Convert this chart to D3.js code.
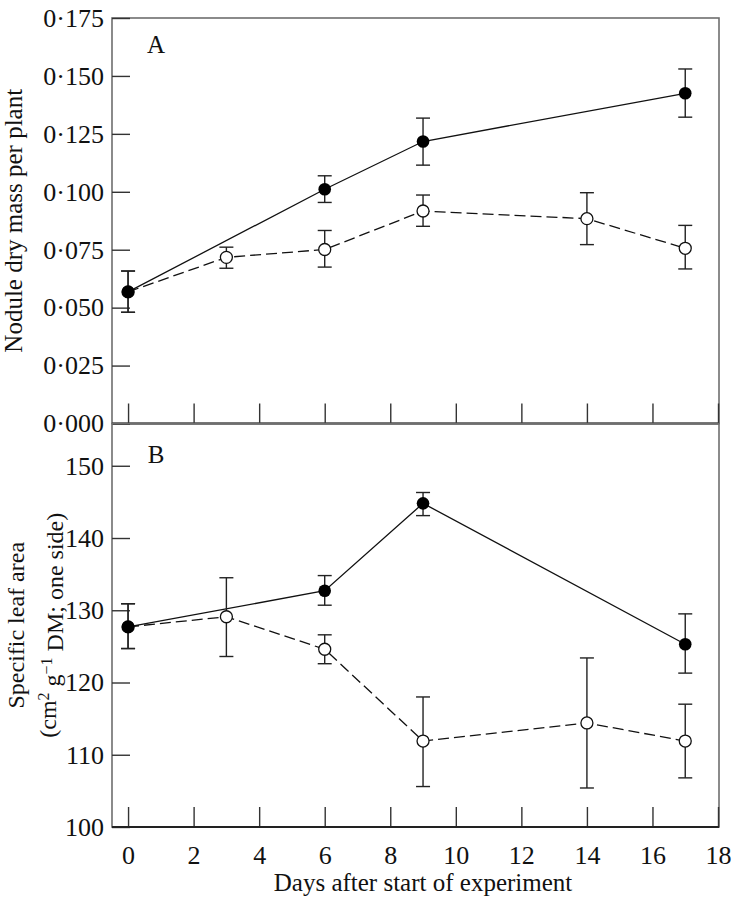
<!DOCTYPE html>
<html>
<head>
<meta charset="utf-8">
<script src="https://cdn.jsdelivr.net/npm/d3@7"></script>
<style>
  html, body { margin: 0; padding: 0; background: #fff; }
  svg { display: block; }
  text { font-family: "Liberation Serif", "DejaVu Serif", serif; fill: #111; }
</style>
</head>
<body>
<svg id="chart" width="734" height="900"></svg>
<script>
// ---------- data ----------
const xTicks = [0, 2, 4, 6, 8, 10, 12, 14, 16, 18];

// Panel A: nodule dry mass per plant
const daysFilled = [0, 6, 9, 17];
const daysOpen = [0, 3, 6, 9, 14, 17];

const massFilled   = [0.0568, 0.1011, 0.1217, 0.1425];
const massFilledHi = [0.0658, 0.1069, 0.1318, 0.1530];
const massFilledLo = [0.0480, 0.0954, 0.1115, 0.1322];

const massOpen   = [0.0568, 0.0717, 0.0751, 0.0917, 0.0884, 0.0756];
const massOpenHi = [0.0658, 0.0761, 0.0833, 0.0986, 0.0996, 0.0855];
const massOpenLo = [0.0480, 0.0670, 0.0675, 0.0851, 0.0772, 0.0667];

const massTicks = [0, 0.025, 0.05, 0.075, 0.1, 0.125, 0.15, 0.175];

// Panel B: specific leaf area
const slaFilled   = [127.7, 132.7, 144.8, 125.3];
const slaFilledHi = [130.9, 134.8, 146.3, 129.5];
const slaFilledLo = [124.7, 130.7, 143.1, 121.3];

const slaOpen   = [127.7, 129.1, 124.6, 111.9, 114.4, 111.9];
const slaOpenHi = [130.9, 134.5, 126.6, 118.0, 123.4, 117.0];
const slaOpenLo = [124.7, 123.6, 122.6, 105.6, 105.4, 106.8];

const slaTicks = [100, 110, 120, 130, 140, 150];

// ---------- layout ----------
const svg = d3.select("#chart");
const L = 112, R = 719;
const topA = 18, botA = 423.5, topB = 423.5, botB = 827;

const x = d3.scaleLinear().domain([-0.49, 18.03]).range([L, R]);
const yA = d3.scaleLinear().domain([0, 0.175]).range([botA, topA]);
const yB = d3.scaleLinear().domain([100, 155.85]).range([botB, topB]);

function zip(days, v, hi, lo) {
  return days.map((d, i) => ({ d, v: v[i], hi: hi[i], lo: lo[i] }));
}

function panel(y, top, bot, ticks, fmt, filled, open, showXLabels) {
  const g = svg.append("g");

  // frame
  g.append("rect").attr("x", L).attr("y", top).attr("width", R - L).attr("height", bot - top)
    .attr("fill", "none").attr("stroke", "#6e6e6e").attr("stroke-width", 1.6);

  // y axis (ticks inward)
  const ya = g.append("g").attr("transform", `translate(${L},0)`)
    .call(d3.axisLeft(y).tickValues(ticks).tickFormat(fmt).tickSize(-18).tickPadding(8));
  ya.select(".domain").remove();
  ya.selectAll(".tick line").attr("stroke", "#333").attr("stroke-width", 1.4);
  ya.selectAll(".tick text").style("font-size", "26px").attr("fill", "#111")
    .style("font-family", '"Liberation Serif", serif');

  // x axis (ticks inward)
  const xa = g.append("g").attr("transform", `translate(0,${bot})`)
    .call(d3.axisBottom(x).tickValues(xTicks).tickSize(-20).tickPadding(19)
      .tickFormat(showXLabels ? d3.format("d") : () => ""));
  xa.select(".domain").remove();
  xa.selectAll(".tick line").attr("stroke", "#333").attr("stroke-width", 1.4);
  xa.selectAll(".tick text").style("font-size", "26px").attr("fill", "#111")
    .style("font-family", '"Liberation Serif", serif');

  // bottom axis line (darker)
  g.append("line").attr("x1", L).attr("x2", R).attr("y1", bot).attr("y2", bot)
    .attr("stroke", "#222").attr("stroke-width", 2);

  const line = d3.line().x(p => x(p.d)).y(p => y(p.v));

  // lines
  g.append("path").datum(open).attr("d", line).attr("fill", "none")
    .attr("stroke", "#111").attr("stroke-width", 1.3).attr("stroke-dasharray", "11,5");
  g.append("path").datum(filled).attr("d", line).attr("fill", "none")
    .attr("stroke", "#111").attr("stroke-width", 1.3);

  // error bars
  const cap = 7;
  const all = open.concat(filled);
  const eb = g.append("g").attr("stroke", "#222").attr("stroke-width", 1.4);
  eb.selectAll("line.v").data(all).join("line")
    .attr("x1", p => x(p.d)).attr("x2", p => x(p.d))
    .attr("y1", p => y(p.hi)).attr("y2", p => y(p.lo));
  eb.selectAll("line.t").data(all).join("line").attr("class", "t")
    .attr("x1", p => x(p.d) - cap).attr("x2", p => x(p.d) + cap)
    .attr("y1", p => y(p.hi)).attr("y2", p => y(p.hi));
  eb.selectAll("line.b").data(all).join("line").attr("class", "b")
    .attr("x1", p => x(p.d) - cap).attr("x2", p => x(p.d) + cap)
    .attr("y1", p => y(p.lo)).attr("y2", p => y(p.lo));

  // markers
  g.append("g").selectAll("circle").data(open).join("circle")
    .attr("cx", p => x(p.d)).attr("cy", p => y(p.v)).attr("r", 6)
    .attr("fill", "#fff").attr("stroke", "#111").attr("stroke-width", 1.3);
  g.append("g").selectAll("circle").data(filled).join("circle")
    .attr("cx", p => x(p.d)).attr("cy", p => y(p.v)).attr("r", 6.3)
    .attr("fill", "#000");
  return g;
}

const fmtA = v => d3.format(".3f")(v).replace(".", "\u00B7");
const fmtB = d3.format("d");

panel(yA, topA, botA, massTicks, fmtA,
  zip(daysFilled, massFilled, massFilledHi, massFilledLo),
  zip(daysOpen, massOpen, massOpenHi, massOpenLo), false);

panel(yB, topB, botB, slaTicks, fmtB,
  zip(daysFilled, slaFilled, slaFilledHi, slaFilledLo),
  zip(daysOpen, slaOpen, slaOpenHi, slaOpenLo), true);

// panel letters
svg.append("text").attr("x", 156).attr("y", 53).attr("text-anchor", "middle")
  .style("font-size", "25px").text("A");
svg.append("text").attr("x", 156).attr("y", 463).attr("text-anchor", "middle")
  .style("font-size", "25px").text("B");

// axis titles
svg.append("text").attr("transform", `translate(22,${(topA + botA) / 2}) rotate(-90)`)
  .attr("text-anchor", "middle").style("font-size", "25px").text("Nodule dry mass per plant");

const yBc = (topB + botB) / 2;
svg.append("text").attr("transform", `translate(24,${yBc}) rotate(-90)`)
  .attr("text-anchor", "middle").style("font-size", "24px").text("Specific leaf area");

const t2 = svg.append("text").attr("transform", `translate(56,${yBc}) rotate(-90)`)
  .attr("text-anchor", "middle").style("font-size", "24px");
t2.append("tspan").text("(cm");
t2.append("tspan").attr("dy", "-0.45em").style("font-size", "16px").text("2");
t2.append("tspan").attr("dy", "0.45em").text(" g");
t2.append("tspan").attr("dy", "-0.45em").style("font-size", "16px").text("\u22121");
t2.append("tspan").attr("dy", "0.45em").text(" DM; one side)");

svg.append("text").attr("x", (x(0) + x(18)) / 2).attr("y", 891).attr("text-anchor", "middle")
  .style("font-size", "25px").text("Days after start of experiment");
</script>
</body>
</html>
